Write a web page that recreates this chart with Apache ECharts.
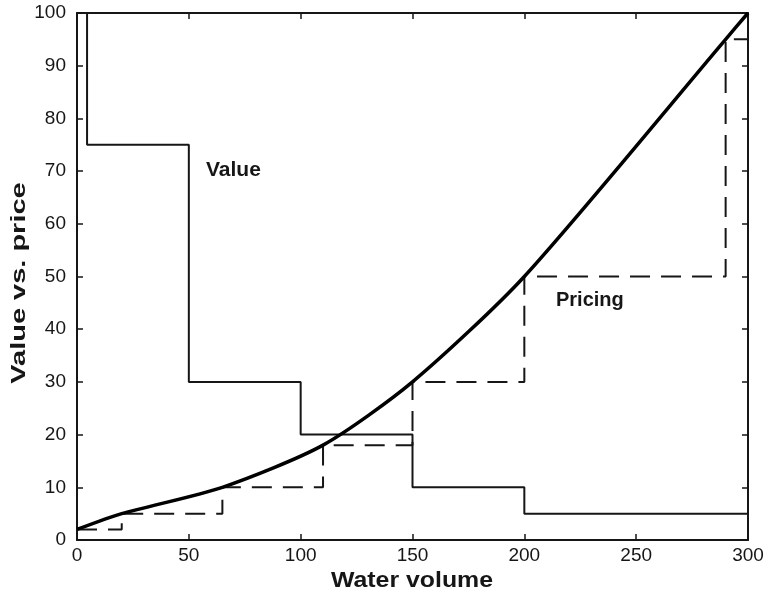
<!DOCTYPE html>
<html><head><meta charset="utf-8">
<script src="https://cdn.jsdelivr.net/npm/echarts@6/dist/echarts.min.js"></script>
<style>html,body{margin:0;padding:0;background:#fff}#c{width:767px;height:597px}</style>
</head><body><div id="c"></div>
<script>
// Value (solid step) : level i holds from valueBreaks[i] to valueBreaks[i+1]
const valueBreaks = [4.5, 50, 100, 150, 200, 300];
const valueLevels = [75, 30, 20, 10, 5];
const valueTop = 100;
// Pricing (dashed step)
const pricingBreaks = [0, 20, 65, 110, 150, 200, 290, 300];
const pricingLevels = [2, 5, 10, 18, 30, 50, 95];
// Thick curve
const curveX = [0, 20, 65, 110, 150, 200, 290, 300];
const curveY = [2, 5, 10, 18, 30, 50, 95, 100];
const xTicks = [0, 50, 100, 150, 200, 250, 300];
const yTicks = [0, 10, 20, 30, 40, 50, 60, 70, 80, 90, 100];

function stepPts(breaks, levels, start) {
  const pts = [];
  if (start !== undefined) pts.push([breaks[0], start]);
  for (let i = 0; i < levels.length; i++) {
    pts.push([breaks[i], levels[i]]);
    pts.push([breaks[i + 1], levels[i]]);
  }
  return pts;
}
const valuePts = stepPts(valueBreaks, valueLevels, valueTop);
const pricingPts = stepPts(pricingBreaks, pricingLevels);
const curvePts = curveX.map((x, i) => [x, curveY[i]]);

const ink = '#161616';
const fontF = '"Liberation Sans", Arial, sans-serif';
const chart = echarts.init(document.getElementById('c'));
const axisCommon = {
  type: 'value',
  axisLine: { show: true, onZero: false, lineStyle: { color: ink, width: 2 } },
  axisTick: { show: true, inside: true, length: 6, lineStyle: { color: ink, width: 1.5 } },
  splitLine: { show: false },
};
chart.setOption({
  animation: false,
  grid: { left: 77, right: 19, top: 13, bottom: 57 },
  xAxis: [
    Object.assign({}, axisCommon, {
      min: 0, max: 300, interval: 50, position: 'bottom',
      axisLabel: { color: ink, fontSize: 19, fontFamily: fontF, margin: 6,
        formatter: v => xTicks.includes(v) ? String(v) : '' }
    }),
    Object.assign({}, axisCommon, {
      min: 0, max: 300, interval: 50, position: 'top', axisLabel: { show: false }
    })
  ],
  yAxis: [
    Object.assign({}, axisCommon, {
      min: 0, max: 100, interval: 10, position: 'left',
      axisLabel: { color: ink, fontSize: 19, fontFamily: fontF, margin: 11,
        formatter: v => yTicks.includes(v) ? String(v) : '' }
    }),
    Object.assign({}, axisCommon, {
      min: 0, max: 100, interval: 10, position: 'right', axisLabel: { show: false }
    })
  ],
  series: [
    { type: 'line', data: valuePts, showSymbol: false, symbol: 'none',
      lineStyle: { color: ink, width: 2 }, z: 3 },
    { type: 'line', data: pricingPts, showSymbol: false, symbol: 'none',
      lineStyle: { color: ink, width: 2, type: [20, 11] }, z: 3 },
    { type: 'line', data: curvePts, showSymbol: false, symbol: 'none', smooth: 0.25,
      lineStyle: { color: '#000', width: 3.5 }, z: 4 }
  ],
  graphic: [
    { type: 'text', x: 206, y: 170,
      style: { text: 'Value', font: 'bold 21px ' + fontF, fill: ink, verticalAlign: 'middle' } },
    { type: 'text', x: 556, y: 300,
      style: { text: 'Pricing', font: 'bold 20px ' + fontF, fill: ink, verticalAlign: 'middle' } },
    { type: 'text', x: 412, y: 581, scaleX: 1.13,
      style: { text: 'Water volume', font: 'bold 22px ' + fontF, fill: ink,
        align: 'center', verticalAlign: 'middle' } },
    { type: 'text', x: 19, y: 283, rotation: Math.PI / 2, scaleX: 1.38,
      style: { text: 'Value vs. price', font: 'bold 21px ' + fontF, fill: ink,
        align: 'center', verticalAlign: 'middle' } }
  ]
});
</script></body></html>
